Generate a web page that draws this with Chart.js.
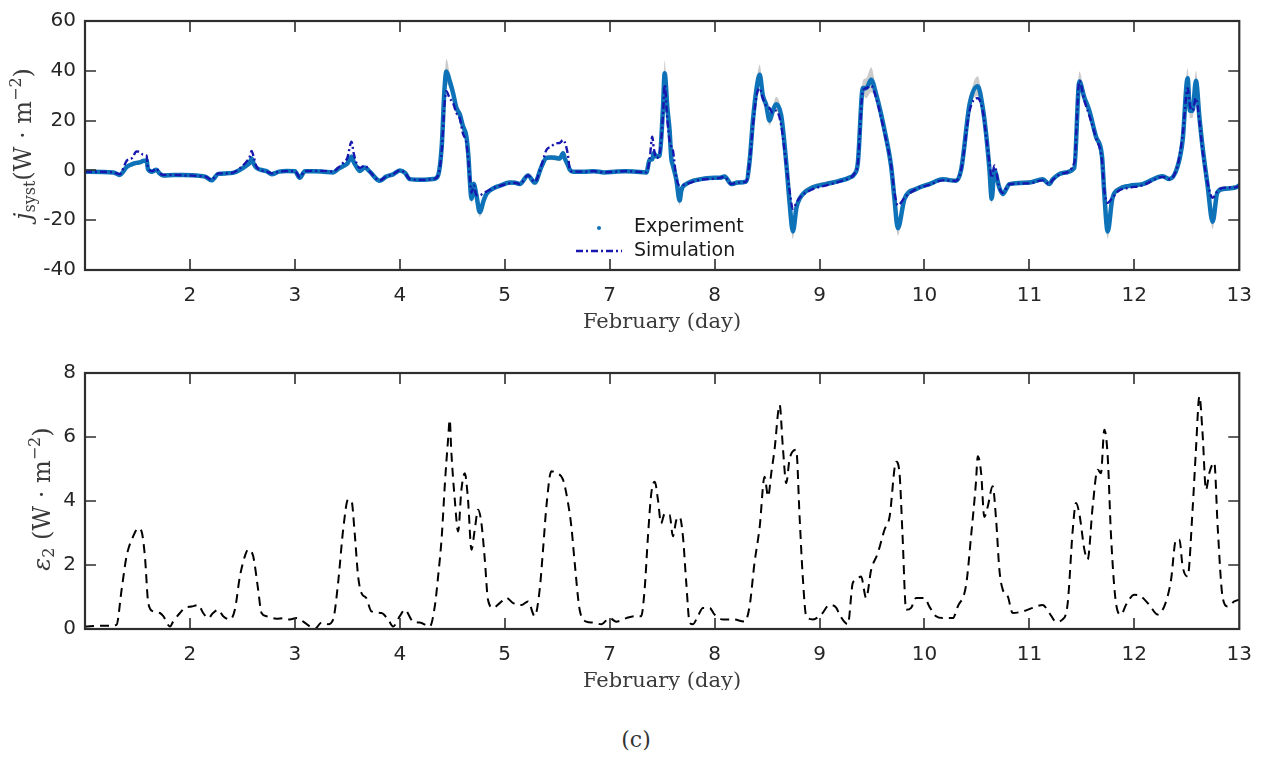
<!DOCTYPE html>
<html><head><meta charset="utf-8">
<script src="https://cdn.jsdelivr.net/npm/chart.js@4.4.0/dist/chart.umd.min.js"></script>
<style>
html,body{margin:0;padding:0;background:#fff;}
#wrap{position:relative;width:1266px;height:760px;background:#fff;}
canvas{position:absolute;left:0;}
#c1{top:0;} #c2{top:345px;}
#cap{position:absolute;top:727px;left:0;width:1272px;text-align:center;font:22px "DejaVu Serif";color:#333;}
</style></head><body>
<div id="wrap">
<canvas id="c1" width="1266" height="345"></canvas>
<canvas id="c2" width="1266" height="345"></canvas>
<div id="cap">(c)</div>
</div>
<script>
// Axis: positions 0..11 correspond to these February days (day 6 absent)
const dayLabels = ['1','2','3','4','5','7','8','9','10','11','12','13'];

// ---- Top panel: j_syst ----
const topX = [0.00,0.27,0.33,0.40,0.45,0.49,0.52,0.555,0.587,0.60,0.64,0.68,0.71,0.745,0.85,0.935,1.02,1.095,1.15,1.206,1.27,1.34,1.41,1.48,1.54,1.57,1.587,1.61,1.635,1.70,1.73,1.777,1.85,1.92,2.00,2.047,2.095,2.18,2.27,2.365,2.41,2.46,2.50,2.54,2.56,2.587,2.62,2.666,2.714,2.81,2.87,2.936,3.00,3.05,3.095,3.20,3.317,3.36,3.40,3.425,3.444,3.475,3.508,3.54,3.571,3.60,3.635,3.655,3.667,3.683,3.705,3.73,3.762,3.80,3.825,3.90,3.952,4.048,4.10,4.143,4.222,4.286,4.35,4.397,4.44,4.49,4.524,4.556,4.571,4.603,4.619,4.65,4.75,4.85,4.95,5.05,5.15,5.25,5.35,5.381,5.406,5.42,5.444,5.476,5.508,5.524,5.55,5.571,5.587,5.603,5.635,5.667,5.683,5.73,5.857,6.00,6.048,6.095,6.159,6.22,6.30,6.335,6.365,6.40,6.43,6.46,6.49,6.524,6.555,6.587,6.635,6.683,6.714,6.746,6.78,6.81,6.937,7.063,7.19,7.285,7.33,7.365,7.413,7.444,7.492,7.54,7.62,7.682,7.714,7.746,7.81,7.92,8.047,8.175,8.30,8.35,8.43,8.508,8.555,8.587,8.619,8.641,8.666,8.714,8.746,8.81,9.00,9.127,9.19,9.222,9.317,9.428,9.476,9.524,9.571,9.635,9.692,9.714,9.746,9.79,9.857,9.952,10.08,10.27,10.333,10.413,10.46,10.508,10.53,10.555,10.587,10.62,10.65,10.698,10.746,10.79,10.84,10.968,11.00];
const expY = [-0.5,-0.8,-1.8,1.5,2.5,3.0,3.2,3.8,4.0,0.5,-0.5,0.3,-1.2,-2.0,-1.8,-1.8,-1.9,-2.2,-2.6,-4.0,-1.4,-1.2,-1.0,0.3,2.0,3.0,4.8,2.5,1.0,0.0,-0.3,-1.5,-0.5,-0.2,-0.3,-3.0,-0.3,-0.3,-0.5,-0.8,0.5,1.7,2.8,5.5,3.5,1.5,-0.2,1.2,-0.5,-4.2,-2.5,-1.6,0.0,-1.0,-3.5,-3.8,-3.5,-2.5,10,32,39.7,36,31,25,22.6,18,13.5,5,-3.6,-11.4,-5.5,-10,-16.7,-12,-9.5,-7,-6.2,-4.9,-5.0,-5.5,-2.0,-4.9,1.5,5.0,5.2,5.0,4.8,6.9,5.0,2.0,0.4,-0.5,-0.5,-0.3,-0.8,-0.5,-0.3,-0.5,-0.8,4.3,4.5,7,5.6,6.0,25,39,25,16.1,5.0,2,-3.6,-12.1,-8,-5.5,-3.6,-3.0,-3.0,-2.4,-5.5,-4.9,-4.5,4.3,20,33,38.4,30,26.6,20,24,26.6,22,3,-12.7,-24.5,-15,-11.4,-6.8,-5.5,-4.2,-2.9,-1.6,3,33.1,33,36.4,30.5,16,1.7,-11.4,-23.2,-11.4,-7.5,-5.5,-3.6,-4.2,0.4,26.6,33.8,25.3,14.8,0.4,-11.4,0,-7,-9.5,-5.5,-4.9,-3.6,-5.5,-3.6,-1,1,35.7,29.2,24,13.5,5.6,-9.5,-24.5,-11.4,-7.5,-6.2,-5.5,-2.3,-3.5,1.7,12,37,24,24,36,21.4,9.5,-6,-20.6,-9,-7.5,-6.8,-6];
const simY = [-0.5,-0.8,-1.5,4.0,5.0,7.6,7.5,6.3,6.0,1.0,-0.3,0.8,-1.0,-1.8,-1.8,-2.0,-2.1,-2.3,-2.5,-3.8,-1.2,-1.2,-0.9,1.0,3.6,5.5,7.8,5.0,1.5,-0.3,-0.5,-1.2,-0.5,-0.3,-0.3,-2.7,-0.3,-0.2,-0.2,-0.5,1.0,3.0,5.0,11.5,7.0,3.0,1.0,2.0,-0.5,-4.0,-2.5,-1.5,0.0,-1.0,-3.5,-3.8,-3.5,-2.5,8,26,31.8,29,27,23,21,15,11,3,-3,-9,-6,-10,-10,-9,-8.5,-7,-6.2,-5.2,-5.0,-5.5,-2.0,-4.6,2.0,8.2,9.5,10.9,11.0,12.2,11.5,6.0,0.5,-0.5,-0.5,-0.3,-0.8,-0.5,-0.3,-0.5,-0.8,4.5,13.5,9,5,7,22,34.4,20,12,9.5,8,-3,-6,-6,-5.5,-3.8,-3.3,-3.0,-2.6,-5.5,-4.9,-4.5,4.0,18,30,33,29,26,25,23,24,18,2,-8,-15.4,-13,-11,-7.5,-6,-4.5,-3.0,-1.5,3,32,33,34,29,15,2,-9,-14,-11,-7.5,-5.8,-4,-4.2,0.4,24,29,24,14,3,-3,2,-7,-9,-5.5,-5.2,-4,-5.5,-3.8,-1.2,3,36,28,22,13,4,-8,-13,-11,-8,-7,-6,-2.6,-3.5,2,14,33,26,24,29,20,8,-5,-11,-8.5,-7,-6.8,-6];
const bandW = [0.5,0.5,0.5,0.8,0.8,0.8,0.8,0.8,0.8,0.5,0.5,0.5,0.5,0.5,0.5,0.5,0.5,0.5,0.5,0.5,0.5,0.5,0.5,0.5,0.8,0.8,1,0.8,0.5,0.5,0.5,0.5,0.5,0.5,0.5,0.5,0.5,0.5,0.5,0.5,0.5,0.8,0.8,1,0.8,0.5,0.5,0.5,0.5,0.5,0.5,0.5,0.5,0.5,0.5,0.5,0.5,0.8,2,4,5,3,2,2,2,2,2,1.5,1.5,2,1.5,1.5,2,1.5,1,1,0.8,0.8,0.8,0.8,0.8,0.8,0.8,1,1,1,1,1,1,0.8,0.5,0.5,0.5,0.5,0.5,0.5,0.5,0.5,0.5,1,1,1,1,1,3,5,3,2,1.5,1.5,1.5,2,1.5,1,0.8,0.8,0.8,0.8,0.8,0.8,0.8,1,2,3,4,3,2,2,2,3,2,2,2,3,2,1.5,1,1,0.8,0.8,0.8,1,3,4,5,2,2,1.5,2,3,1.5,1,0.8,0.8,0.8,1,2,4,2,2,1.5,2,1.5,1,1,0.8,0.8,0.8,0.8,0.8,0.8,1,4,2,2,2,1.5,2,3,1.5,1,0.8,0.8,0.8,0.8,1,2,4,3,3,4,2,2,2,3,1.5,1,0.8,0.8];

// ---- Bottom panel: epsilon_2 ----
const errX = [0.00,0.142,0.238,0.30,0.349,0.396,0.46,0.507,0.539,0.571,0.603,0.65,0.714,0.746,0.81,0.84,0.905,0.952,1.015,1.08,1.126,1.174,1.22,1.27,1.317,1.38,1.428,1.476,1.523,1.555,1.603,1.65,1.682,1.73,1.825,1.888,1.952,2.015,2.08,2.143,2.19,2.254,2.317,2.365,2.412,2.46,2.507,2.54,2.57,2.603,2.635,2.68,2.73,2.825,2.888,2.936,3.00,3.047,3.127,3.19,3.286,3.333,3.365,3.40,3.43,3.46,3.476,3.49,3.524,3.556,3.587,3.62,3.65,3.683,3.714,3.746,3.778,3.81,3.84,3.889,3.952,4.016,4.08,4.159,4.222,4.286,4.333,4.365,4.397,4.444,4.49,4.556,4.603,4.635,4.667,4.714,4.778,4.84,4.92,5.00,5.063,5.159,5.238,5.30,5.333,5.365,5.397,5.43,5.46,5.49,5.524,5.571,5.603,5.635,5.667,5.698,5.73,5.762,5.794,5.84,5.889,5.952,6.00,6.08,6.175,6.286,6.333,6.38,6.43,6.476,6.51,6.54,6.571,6.62,6.65,6.683,6.714,6.778,6.81,6.84,6.873,6.937,7.016,7.095,7.16,7.19,7.27,7.317,7.35,7.396,7.444,7.492,7.555,7.619,7.667,7.73,7.762,7.79,7.825,7.873,7.92,8.00,8.047,8.11,8.175,8.27,8.317,8.397,8.444,8.49,8.508,8.54,8.57,8.603,8.65,8.683,8.714,8.746,8.794,8.84,8.937,9.032,9.127,9.19,9.254,9.317,9.365,9.413,9.444,9.476,9.524,9.555,9.603,9.65,9.682,9.714,9.746,9.778,9.825,9.873,9.92,10.00,10.063,10.143,10.222,10.27,10.317,10.35,10.397,10.43,10.46,10.508,10.555,10.587,10.62,10.65,10.683,10.714,10.762,10.794,10.84,10.889,10.952,11.00];
const errY = [0.08,0.1,0.1,0.13,1.23,2.27,2.9,3.15,3.05,2.27,0.81,0.55,0.5,0.4,0.08,0.23,0.5,0.66,0.7,0.75,0.5,0.34,0.5,0.6,0.4,0.3,0.6,1.64,2.27,2.48,2.27,1.23,0.5,0.4,0.32,0.34,0.3,0.34,0.23,0.08,0.0,0.2,0.15,0.3,1.44,3.1,4.04,4.0,3.0,1.64,1.12,0.97,0.55,0.5,0.3,0.08,0.4,0.6,0.23,0.2,0.08,0.7,1.64,2.9,4.56,5.92,6.54,5.6,4.04,3.05,4.35,4.87,4.04,2.48,3.1,3.73,3.3,2.17,0.92,0.66,0.81,0.97,0.81,0.75,0.86,0.4,1.23,2.48,3.83,4.93,4.87,4.66,3.94,3.2,2.06,0.6,0.23,0.2,0.15,0.34,0.23,0.34,0.4,0.4,1.23,2.9,4.25,4.6,4.04,3.3,3.6,3.57,2.9,3.4,3.5,2.9,1.44,0.2,0.15,0.4,0.66,0.66,0.45,0.3,0.3,0.23,0.7,2.06,3.2,4.76,4.14,4.87,5.6,7.0,5.7,4.56,5.3,5.6,3.5,1.64,0.4,0.3,0.45,0.75,0.66,0.45,0.15,1.44,1.54,1.64,0.97,1.85,2.37,3.1,3.5,5.23,4.87,3.0,0.6,0.66,0.97,0.97,0.7,0.4,0.34,0.34,0.7,1.38,2.9,4.56,5.4,4.87,3.5,3.83,4.46,3.4,1.85,1.23,1.02,0.5,0.55,0.66,0.75,0.5,0.23,0.3,0.81,3.1,3.94,3.6,2.48,2.17,3.83,4.98,4.87,6.23,5.4,2.9,0.81,0.45,0.75,1.07,1.02,0.75,0.45,0.6,1.02,1.54,2.79,2.79,1.96,1.64,3.73,5.6,7.27,6.12,4.35,4.87,5.2,3.2,1.02,0.7,0.86,0.92];

const expColor = '#0e72b8';
const simColor = '#1717b0';
const axisColor = '#2e2e2e';
const titleColor = '#3a3a3a';

Chart.defaults.font.family = '"DejaVu Sans"';
Chart.defaults.color = '#262626';

function pts(xs, ys) { return xs.map((x, i) => ({x: x, y: ys[i]})); }

const framePlugin = {
  id: 'frame',
  afterDatasetsDraw(chart) {
    const {ctx, chartArea: a, scales} = chart;
    const x = scales.x, y = scales.y, L = 11;
    ctx.save();
    ctx.strokeStyle = axisColor;
    ctx.lineWidth = 1.6;
    ctx.beginPath();
    x.ticks.forEach(t => {
      const p = Math.round(x.getPixelForValue(t.value));
      if (p < a.left + 3 || p > a.right - 3) return;
      ctx.moveTo(p, a.bottom); ctx.lineTo(p, a.bottom - L);
      ctx.moveTo(p, a.top); ctx.lineTo(p, a.top + L);
    });
    y.ticks.forEach(t => {
      const p = Math.round(y.getPixelForValue(t.value));
      if (p < a.top + 3 || p > a.bottom - 3) return;
      ctx.moveTo(a.left, p); ctx.lineTo(a.left + L, p);
      ctx.moveTo(a.right, p); ctx.lineTo(a.right - L, p);
    });
    ctx.stroke();
    ctx.lineWidth = 2.2;
    ctx.strokeRect(a.left, a.top, a.right - a.left, a.bottom - a.top);
    ctx.restore();
  }
};

function drawRich(ctx, parts, cx, cy, rot) {
  ctx.save();
  ctx.translate(cx, cy);
  ctx.rotate(rot);
  ctx.textAlign = 'left';
  ctx.textBaseline = 'alphabetic';
  ctx.fillStyle = titleColor;
  let total = 0;
  parts.forEach(p => { ctx.font = p.f; p.w = ctx.measureText(p.t).width; total += p.w; });
  let x = -total / 2;
  parts.forEach(p => { ctx.font = p.f; ctx.fillText(p.t, x, p.dy || 0); x += p.w; });
  ctx.restore();
}

const SERIF = '"DejaVu Serif"';
function xTitle(chart) {
  const a = chart.chartArea;
  drawRich(chart.ctx, [{t: 'February (day)', f: '21px ' + SERIF}], 662, a.bottom + 58, 0);
}

function xScale() {
  return {
    type: 'linear', min: 0, max: 11,
    afterFit: s => { s.height = (s.chart.canvas.id === 'c1') ? 75 : 61; },
    grid: {display: false, drawTicks: false},
    border: {display: false},
    ticks: {
      stepSize: 1, autoSkip: false, maxRotation: 0, padding: 14,
      font: {size: 20}, color: '#262626',
      callback: v => (v === 0 ? '' : dayLabels[v])
    }
  };
}

// ---------- Top chart ----------
const upper = expY.map((v, i) => v + bandW[i]);
const lower = expY.map((v, i) => v - bandW[i]);
const smooth = {cubicInterpolationMode: 'monotone', pointRadius: 0};

new Chart(document.getElementById('c1'), {
  type: 'line',
  data: {
    datasets: [
      Object.assign({label: 'band+', data: pts(topX, upper), borderWidth: 0, fill: false, order: 4, borderColor: 'rgba(0,0,0,0)'}, smooth),
      Object.assign({label: 'band-', data: pts(topX, lower), borderWidth: 0, fill: 0, order: 3, borderColor: 'rgba(0,0,0,0)', backgroundColor: 'rgba(185,185,185,0.75)'}, smooth),
      Object.assign({label: 'Experiment', data: pts(topX, expY), borderColor: expColor, borderWidth: 4.5, fill: false, order: 2, borderJoinStyle: 'round', borderCapStyle: 'round'}, smooth),
      Object.assign({label: 'Simulation', data: pts(topX, simY), borderColor: simColor, borderWidth: 2.4, borderDash: [7, 3, 2, 3], fill: false, order: 1}, smooth)
    ]
  },
  options: {
    responsive: false, animation: false,
    layout: {padding: {top: 15, right: 26, left: 0, bottom: 0}},
    plugins: {legend: {display: false}, tooltip: {enabled: false}},
    scales: {
      x: xScale(),
      y: {
        min: -40, max: 60,
        afterFit: s => { s.width = 85; },
        grid: {display: false, drawTicks: false},
        border: {display: false},
        ticks: {stepSize: 20, padding: 9, font: {size: 20}, color: '#262626'}
      }
    }
  },
  plugins: [framePlugin, {
    id: 'topText',
    afterDraw(chart) {
      const ctx = chart.ctx;
      xTitle(chart);
      drawRich(ctx, [
        {t: 'j', f: 'italic 24px ' + SERIF},
        {t: 'syst', f: '16px ' + SERIF, dy: 4},
        {t: '(W · m', f: '24px ' + SERIF},
        {t: '−2', f: '16px ' + SERIF, dy: -10},
        {t: ')', f: '24px ' + SERIF}
      ], 31, 144, -Math.PI / 2);
      // legend
      ctx.save();
      ctx.fillStyle = expColor;
      ctx.beginPath(); ctx.arc(599, 228, 2, 0, Math.PI * 2); ctx.fill();
      ctx.strokeStyle = simColor; ctx.lineWidth = 2.4; ctx.setLineDash([7, 3, 2, 3]);
      ctx.beginPath(); ctx.moveTo(576, 251); ctx.lineTo(622, 251); ctx.stroke();
      ctx.setLineDash([]);
      ctx.fillStyle = '#1a1a1a';
      ctx.font = '19px "DejaVu Sans"';
      ctx.textBaseline = 'middle'; ctx.textAlign = 'left';
      ctx.fillText('Experiment', 634, 227);
      ctx.fillText('Simulation', 634, 251);
      ctx.restore();
    }
  }]
});

// ---------- Bottom chart ----------
new Chart(document.getElementById('c2'), {
  type: 'line',
  data: {
    datasets: [
      {label: 'eps2', data: pts(errX, errY), borderColor: '#000', borderWidth: 2, borderDash: [9, 6], pointRadius: 0, fill: false, cubicInterpolationMode: 'monotone'}
    ]
  },
  options: {
    responsive: false, animation: false,
    layout: {padding: {top: 28, right: 26, left: 0, bottom: 0}},
    plugins: {legend: {display: false}, tooltip: {enabled: false}},
    scales: {
      x: xScale(),
      y: {
        min: 0, max: 8,
        afterFit: s => { s.width = 85; },
        grid: {display: false, drawTicks: false},
        border: {display: false},
        ticks: {stepSize: 2, padding: 9, font: {size: 20}, color: '#262626'}
      }
    }
  },
  plugins: [framePlugin, {
    id: 'botText',
    afterDraw(chart) {
      xTitle(chart);
      drawRich(chart.ctx, [
        {t: 'ε', f: 'italic 24px ' + SERIF},
        {t: '2', f: '16px ' + SERIF, dy: 4},
        {t: ' (W · m', f: '24px ' + SERIF},
        {t: '−2', f: '16px ' + SERIF, dy: -10},
        {t: ')', f: '24px ' + SERIF}
      ], 50, 154, -Math.PI / 2);
    }
  }]
});
</script>
</body></html>
